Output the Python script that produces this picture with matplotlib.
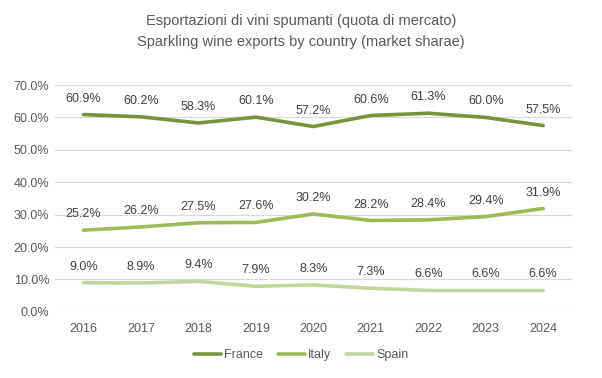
import matplotlib
matplotlib.use("Agg")
import matplotlib.pyplot as plt
from matplotlib.ticker import FuncFormatter

years = ["2016", "2017", "2018", "2019", "2020", "2021", "2022", "2023", "2024"]
france = [60.9, 60.2, 58.3, 60.1, 57.2, 60.6, 61.3, 60.0, 57.5]
italy = [25.2, 26.2, 27.5, 27.6, 30.2, 28.2, 28.4, 29.4, 31.9]
spain = [9.0, 8.9, 9.4, 7.9, 8.3, 7.3, 6.6, 6.6, 6.6]
series_names = ["France", "Italy", "Spain"]
colors = ["#77933C", "#9BBB59", "#C3D69B"]

plt.rcParams['font.family'] = ['Liberation Sans', 'DejaVu Sans']

fig = plt.figure(figsize=(6.02, 3.78), dpi=100)
ax = fig.add_axes([0.091, 0.175, 0.859, 0.600])

x = list(range(len(years)))
for name, vals, c in zip(series_names, [france, italy, spain], colors):
    ax.plot(x, vals, color=c, linewidth=2.6, label=name, solid_capstyle='round')
    for xi, v in zip(x, vals):
        ax.annotate(f"{v:.1f}%", (xi, v), xytext=(0, 11.5), textcoords='offset points',
                    ha='center', va='center', fontsize=9, color='#404040')

ax.set_xlim(-0.5, len(years) - 0.5)
ax.set_ylim(0, 70)
ax.set_yticks(range(0, 71, 10))
ax.yaxis.set_major_formatter(FuncFormatter(lambda v, p: f"{v:.1f}%"))
ax.set_xticks(x)
ax.set_xticklabels(years)
ax.tick_params(axis='both', length=0, labelsize=9, labelcolor='#595959')
ax.tick_params(axis='x', pad=8)
ax.tick_params(axis='y', pad=4)
ax.grid(axis='y', color='#D9D9D9', linewidth=0.9)
ax.set_axisbelow(True)
for s in ax.spines.values():
    s.set_visible(False)

fig.text(0.5, 0.917, "Esportazioni di vini spumanti (quota di mercato)\nSparkling wine exports by country (market sharae)",
         ha='center', va='center', fontsize=10.5, color='#595959', linespacing=1.65)

fig.legend(loc='center', bbox_to_anchor=(0.5, 0.06), ncol=3, frameon=False,
           fontsize=9, labelcolor='#595959', handlelength=2.2, handletextpad=0.2, columnspacing=1.2)

fig.savefig("out.png", dpi=100)
